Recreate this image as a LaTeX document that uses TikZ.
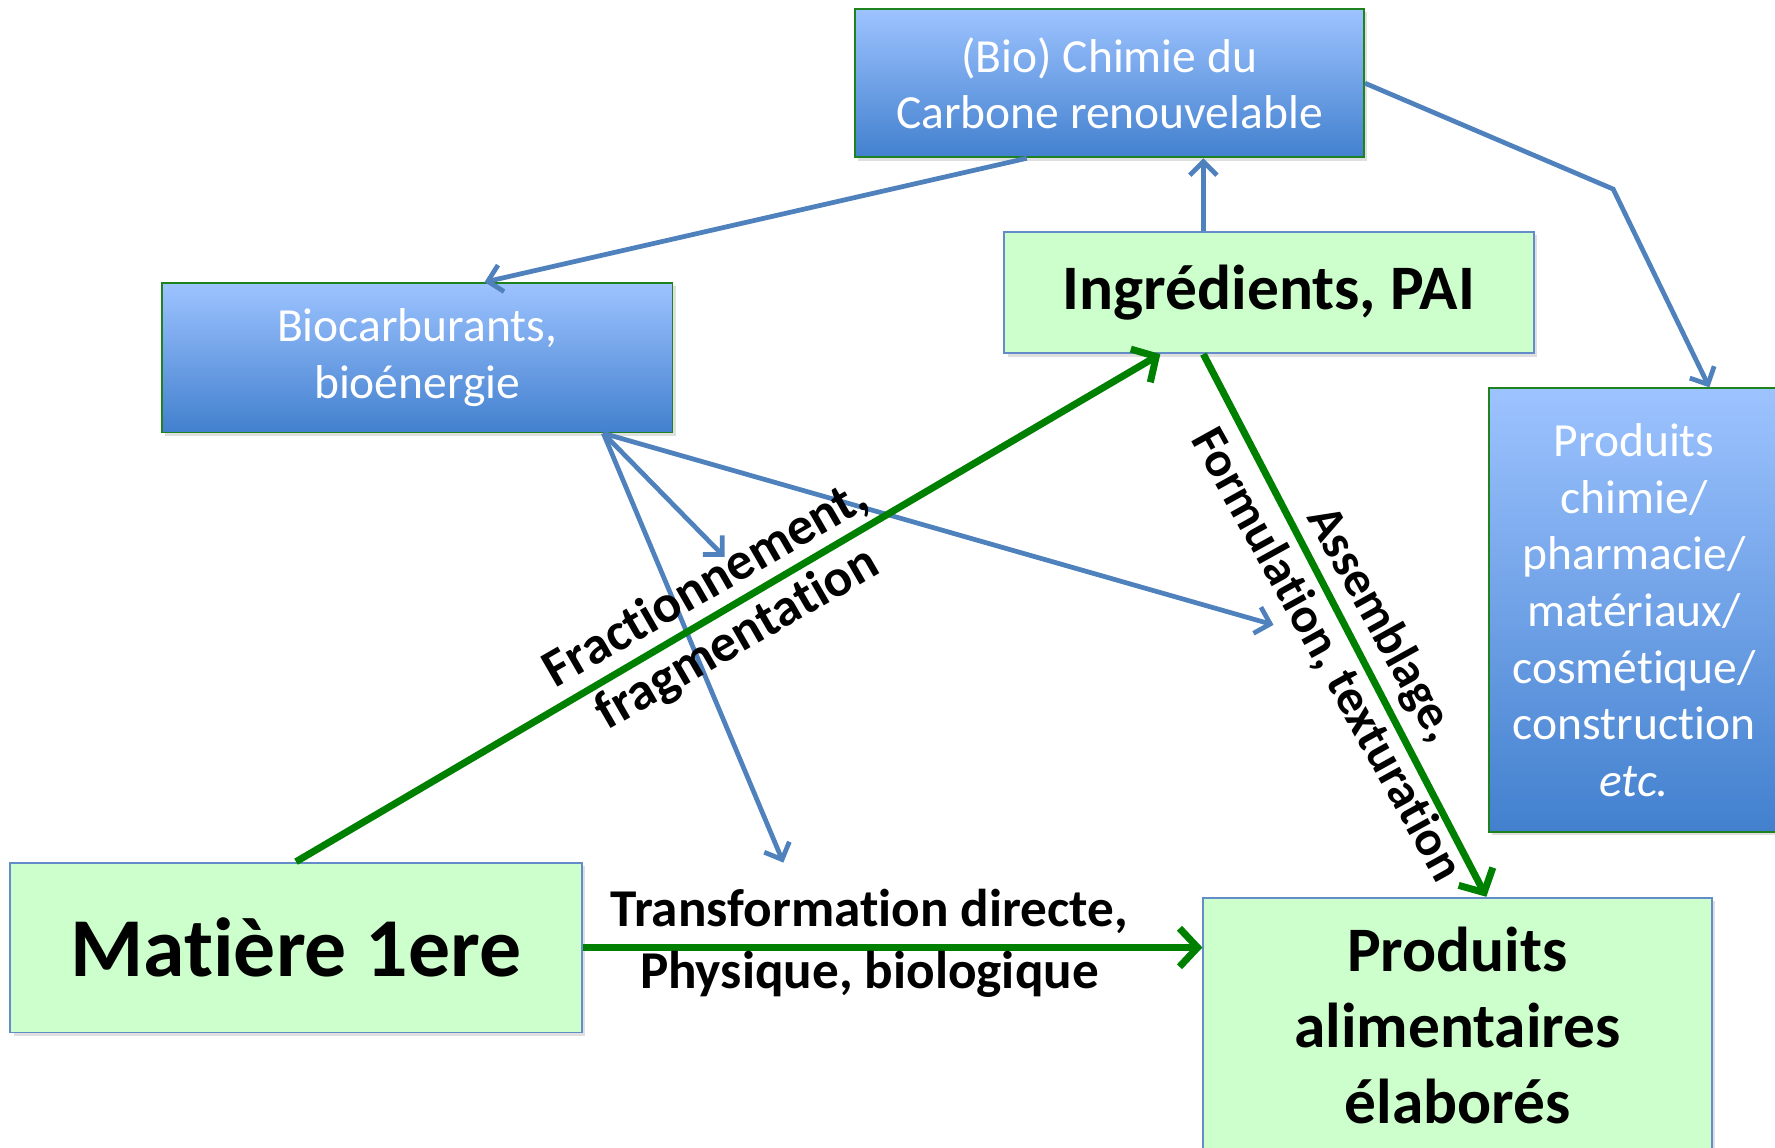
\documentclass[tikz,border=0pt]{standalone}
\usepackage{fontspec}
\setmainfont{Carlito}[Ligatures=NoCommon]
\usetikzlibrary{arrows.meta,shadows,calc}
\definecolor{bluefillA}{RGB}{157,195,255}
\definecolor{bluefillB}{RGB}{66,128,206}
\definecolor{boxgreen}{RGB}{30,130,30}
\definecolor{greenfill}{RGB}{204,255,204}
\definecolor{edgeblue}{RGB}{100,140,200}
\definecolor{arrowblue}{RGB}{79,129,189}
\definecolor{arrowgreen}{RGB}{0,128,0}
\begin{document}
\begin{tikzpicture}[x=0.5pt,y=-0.5pt,
  bluebox/.style={rectangle, draw=boxgreen, line width=0.8pt, top color=bluefillA, bottom color=bluefillB,
    text=white, align=center, inner sep=0pt, font=\fontsize{21}{25}\selectfont,
    drop shadow={shadow xshift=1.5pt, shadow yshift=-1.5pt, opacity=0.25}},
  greenbox/.style={rectangle, draw=edgeblue, line width=0.8pt, fill=greenfill, align=center, inner sep=0pt,
    font=\bfseries, drop shadow={shadow xshift=1.5pt, shadow yshift=-1.5pt, opacity=0.25}},
  bluearrow/.style={draw=arrowblue, line width=2.1pt, -{Straight Barb[length=6pt,width=12pt]}},
  greenarrow/.style={draw=arrowgreen, line width=3.1pt, -{Straight Barb[length=8pt,width=17pt]}},
  lbl/.style={font=\bfseries\fontsize{23.5}{27.5}\selectfont, align=center, inner sep=0pt}]
\useasboundingbox (0,0) rectangle (1568,1014);
\begin{scope}
\clip (0,0) rectangle (1568,1014);
% nodes
\node[bluebox, minimum width=225pt, minimum height=65.5pt] (chim) at (980,73.5) {(Bio) Chimie du\\Carbone renouvelable};
\node[bluebox, minimum width=225.5pt, minimum height=66pt] (bio) at (368.5,316) {Biocarburants,\\bioénergie};
\node[bluebox, minimum width=128.5pt, minimum height=196pt] (prodc) at (1443.5,539) {Produits\\chimie/\\pharmacie/\\matériaux/\\cosmétique/\\construction\\\textit{etc.}};
\node[greenbox, minimum width=234pt, minimum height=53.5pt, font=\bfseries\fontsize{28}{33}\selectfont] (ingr) at (1121,258.5) {Ingrédients, PAI};
\node[greenbox, minimum width=252.5pt, minimum height=75pt, font=\bfseries\fontsize{37}{44}\selectfont] (mat) at (261.5,837) {Matière 1ere};
\node[greenbox, minimum width=224.5pt, minimum height=113pt, font=\bfseries\fontsize{28}{33.5}\selectfont] (prodal) at (1287.5,906) {Produits\\alimentaires\\élaborés};
% free ends
\coordinate (bend) at (1425,167);
\coordinate (e1) at (640,492);
\coordinate (e2) at (692,762);
\coordinate (e3) at (1125,552);
% blue connectors
\draw[bluearrow] ($(chim.south)+(-73,0)$) -- ($(bio.north)+(59.5,0)$);
\draw[bluearrow] ($(ingr.north)+(-58,0)$) -- ($(chim.south)+(83,0)$);
\draw[bluearrow] (chim.east) -- (bend) -- ($(prodc.north)+(66.5,0)$);
\draw[bluearrow] ($(bio.south)+(164.5,0)$) -- (e1);
\draw[bluearrow] ($(bio.south)+(164.5,0)$) -- (e2);
\draw[bluearrow] ($(bio.south)+(164.5,0)$) -- (e3);
% green connectors
\draw[greenarrow] (mat.north) -- ($(ingr.south)+(-96,0)$);
\draw[greenarrow] ($(ingr.south)+(-58,0)$) -- ($(prodal.north)+(25.5,0)$);
\draw[greenarrow] (mat.east) -- (prodal.west |- mat.east);
% labels
\node[lbl] (ltrans) at (768,833) {Transformation directe,\\Physique, biologique};
\node[lbl, rotate=30] (lfrac) at (638,541) {Fractionnement,\\fragmentation};
\node[lbl, rotate=-61, font=\bfseries\fontsize{22}{28}\selectfont] (lass) at (1196,565) {Assemblage,\\Formulation, texturation};
\end{scope}
\end{tikzpicture}
\end{document}
